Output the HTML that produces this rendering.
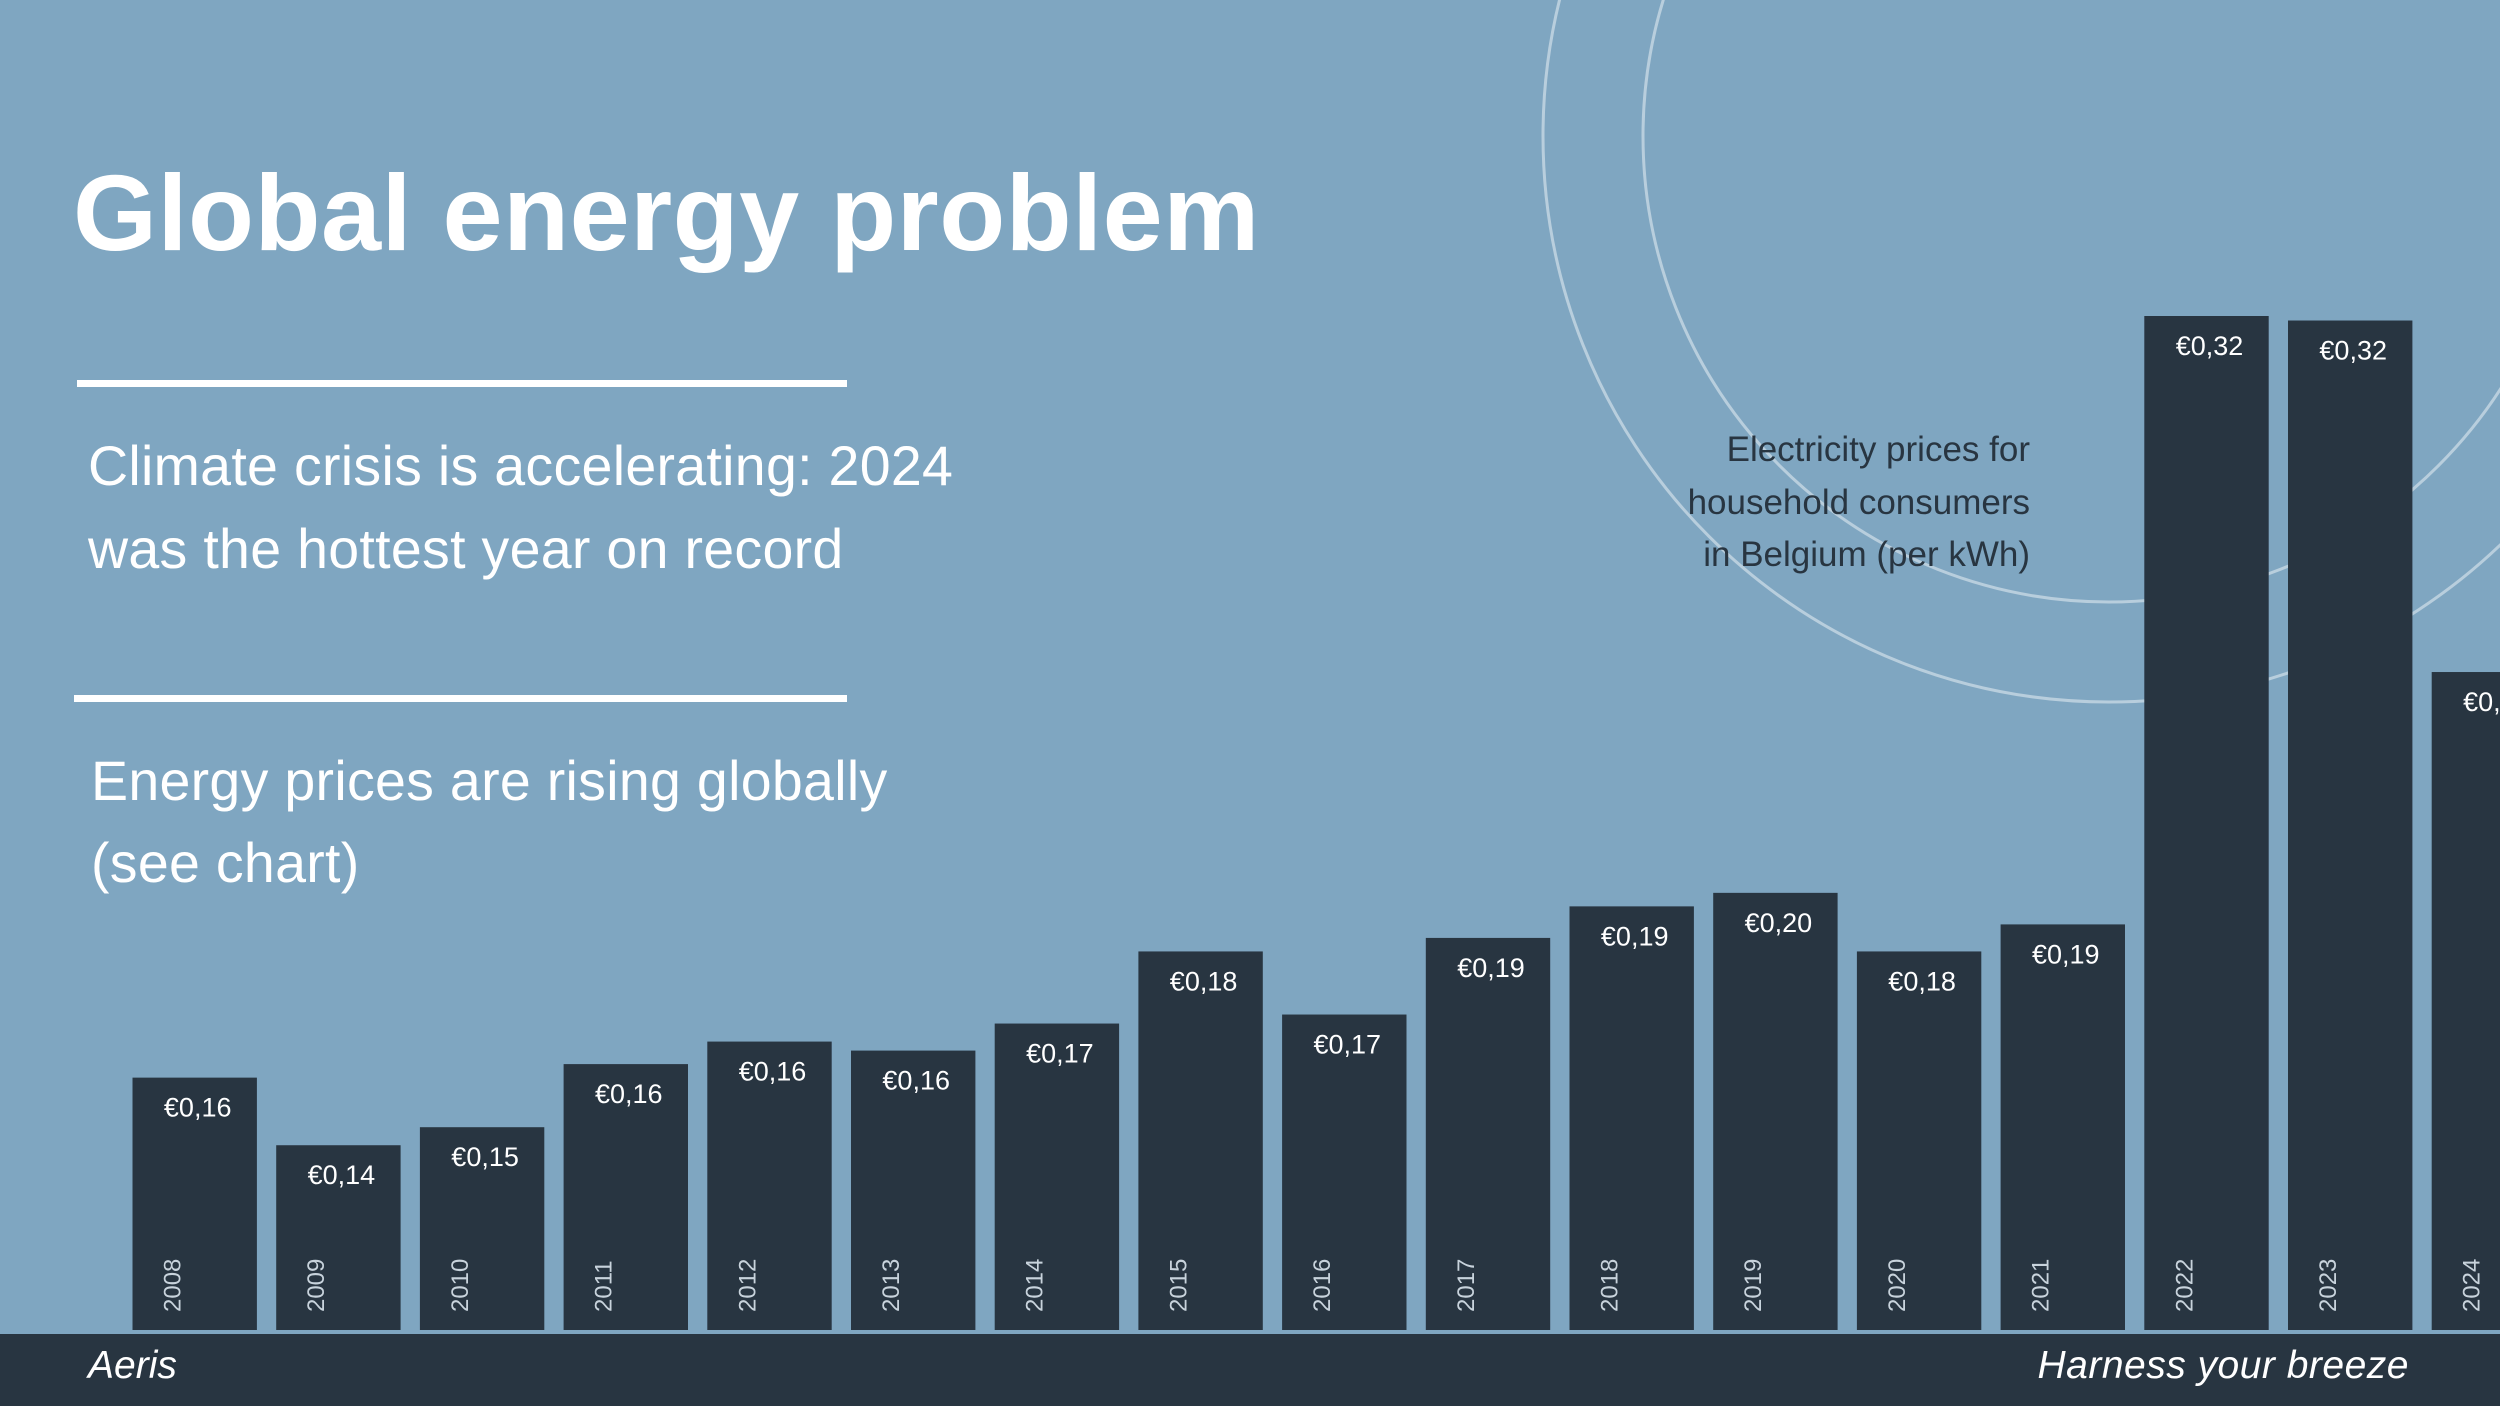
<!DOCTYPE html>
<html><head><meta charset="utf-8"><style>
html,body{margin:0;padding:0}
body{width:2500px;height:1406px;overflow:hidden;background:#7fa6c1;font-family:"Liberation Sans",sans-serif;position:relative}
svg{position:absolute;left:0;top:0}
.t{position:absolute;color:#fff;white-space:nowrap}
</style></head><body>
<svg width="2500" height="1406">
<circle cx="2109" cy="136" r="566" fill="none" stroke="rgba(255,255,255,0.45)" stroke-width="3"/>
<circle cx="2109" cy="136" r="466" fill="none" stroke="rgba(255,255,255,0.45)" stroke-width="3"/>
<g id="bars"></g>
<rect x="0" y="1334" width="2500" height="72" fill="#283541"/>
</svg>
<div class="t" style="left:73px;top:150px;font-size:108px;font-weight:bold;letter-spacing:0.5px">Global energy problem</div>
<div style="position:absolute;left:77px;top:380px;width:770px;height:7px;background:#fff"></div>
<div class="t" style="left:88px;top:425px;font-size:55.5px;line-height:83px;letter-spacing:0.3px">Climate crisis is accelerating: 2024<br>was the hottest year on record</div>
<div style="position:absolute;left:74px;top:695px;width:773px;height:7px;background:#fff"></div>
<div class="t" style="left:91px;top:740px;font-size:55.5px;line-height:82px;letter-spacing:0.3px">Energy prices are rising globally<br>(see chart)</div>
<div class="t" style="right:470px;top:424px;font-size:35px;line-height:52.5px;color:#283541;text-align:right">Electricity prices for<br>household consumers<br>in Belgium (per kWh)</div>
<div class="t" style="left:88px;top:1344px;font-size:39px;font-style:italic">Aeris</div>
<div class="t" style="right:91px;top:1344px;font-size:39px;font-style:italic;letter-spacing:0.5px">Harness your breeze</div>
<script>
const years=["2008","2009","2010","2011","2012","2013","2014","2015","2016","2017","2018","2019","2020","2021","2022","2023","2024"];
const values=[0.151,0.136,0.140,0.154,0.159,0.157,0.163,0.179,0.165,0.182,0.189,0.192,0.179,0.185,0.320,0.319,0.241];
const valueLabels=["€0,16","€0,14","€0,15","€0,16","€0,16","€0,16","€0,17","€0,18","€0,17","€0,19","€0,19","€0,20","€0,18","€0,19","€0,32","€0,32","€0,24"];
const yMin=0.095,yMax=0.32;
const y0=1330,y1=316;
function yScale(v){return y0-(v-yMin)/(yMax-yMin)*(y0-y1);}
function xScale(i){return 132.5+i*143.7;}
const bw=124.4;
const ns="http://www.w3.org/2000/svg";
const g=document.getElementById('bars');
years.forEach((yr,i)=>{
 const x=xScale(i),top=yScale(values[i]);
 const r=document.createElementNS(ns,'rect');
 r.setAttribute('x',x);r.setAttribute('y',top);r.setAttribute('width',bw);r.setAttribute('height',y0-top);r.setAttribute('fill','#283541');
 
 
 g.appendChild(r);
 const t=document.createElementNS(ns,'text');
 t.setAttribute('x',x+bw/2+3);t.setAttribute('y',top+39);t.setAttribute('fill','#fff');t.setAttribute('font-size','27');t.setAttribute('text-anchor','middle');t.setAttribute('font-family','Liberation Sans, sans-serif');
 t.textContent=valueLabels[i];
 
 
 g.appendChild(t);
 const l=document.createElementNS(ns,'text');
 const lx=x+48,ly=1312;
 l.setAttribute('x',lx);l.setAttribute('y',ly);l.setAttribute('fill','#c8d3dc');l.setAttribute('font-size','24');l.setAttribute('font-family','Liberation Sans, sans-serif');
 l.setAttribute('transform','rotate(-90 '+lx+' '+ly+')');
 l.textContent=yr;
 
 
 g.appendChild(l);
});
</script>
</body></html>
